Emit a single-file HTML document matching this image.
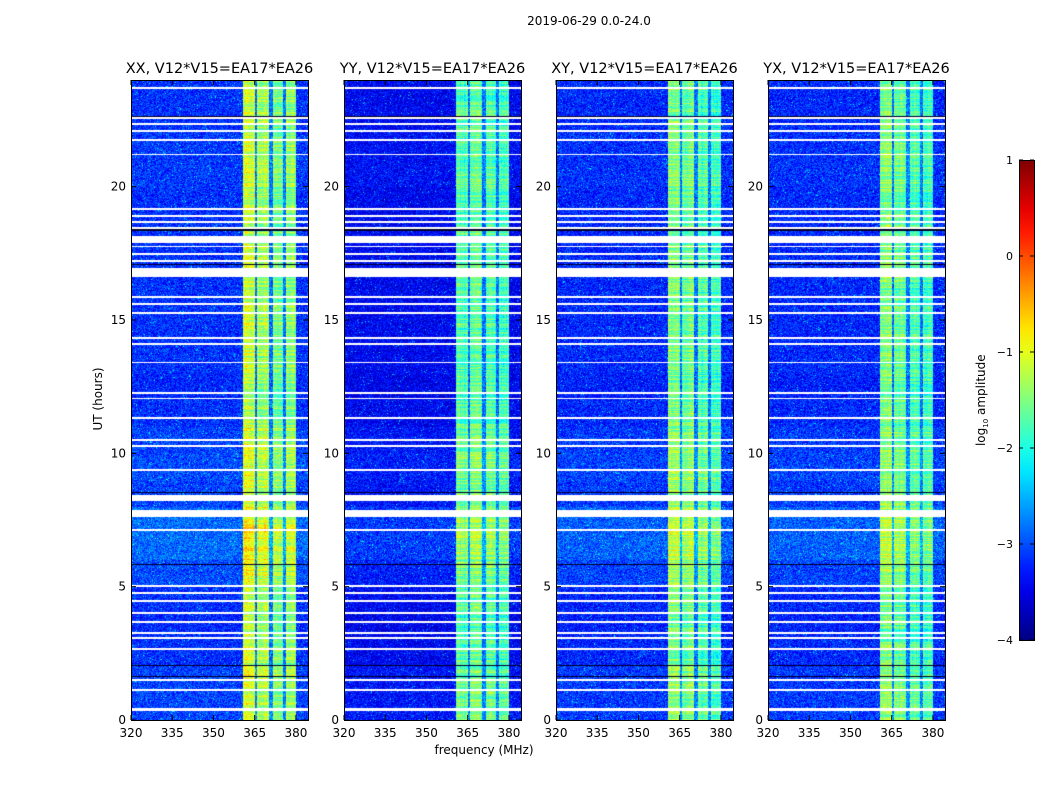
<!DOCTYPE html>
<html><head><meta charset="utf-8">
<style>
body{margin:0;background:#fff;width:1050px;height:800px;position:relative;overflow:hidden;font-family:"DejaVu Sans","Liberation Sans",sans-serif;}
.t{position:absolute;color:#000;white-space:nowrap;}
canvas{position:absolute;}
</style></head>
<body>
<div class="t" style="left:0;width:1178px;top:14px;text-align:center;font-size:12px;">2019-06-29 0.0-24.0</div>
<div class="t" style="left:384px;width:200px;top:743px;text-align:center;font-size:12px;">frequency (MHz)</div>
<div class="t" style="left:48px;top:392px;width:100px;text-align:center;font-size:12px;transform:rotate(-90deg);">UT (hours)</div>
<div class="t" style="left:932px;top:392px;width:100px;text-align:center;font-size:12px;transform:rotate(-90deg);">log<sub style="font-size:7px">10</sub> amplitude</div>
<svg id="ov" width="1050" height="800" style="position:absolute;left:0;top:0;z-index:2;font-family:'DejaVu Sans','Liberation Sans',sans-serif;"></svg>
<script>
const panelNames=["XX","YY","XY","YX"];
const panelLefts=[131,344,556,768];
const subBandStart=[360.7,366.0,371.5,376.4];
const subBandEnd=[365.0,370.2,375.3,380.0];
const bandLevelXX=[-1.15,-1.35,-1.55,-1.45];
const bandLevelYY=[-1.75,-1.7,-1.75,-1.8];
const bandLevelXY=[-1.5,-1.6,-1.75,-1.8];
const bandLevelYX=[-1.5,-1.65,-1.75,-1.8];
const backgroundLevel=[-3.15,-3.4,-3.2,-3.2];
const hourOffset=[0.1,0.1,0.0,-0.05,0.0,0.15,0.3,0.3,0.1,0.15,0.1,0.0,-0.05,0.0,0.0,0.0,0.0,0.0,0.0,0.0,0.05,0.05,0.0,0.0];
const flagStart=[0.35,1.1,1.48,2.64,3.05,3.24,3.65,3.99,4.44,4.74,5.0,7.1,7.6,8.2,9.35,10.25,10.48,11.3,12.02,12.24,13.37,14.08,14.3,15.24,15.58,15.84,16.6,17.18,17.45,17.72,17.9,18.43,18.65,18.88,19.14,21.17,21.73,22.06,22.33,22.55,23.68];
const flagEnd=[0.45,1.16,1.53,2.7,3.1,3.29,3.71,4.05,4.5,4.8,5.06,7.16,7.87,8.42,9.41,10.31,10.54,11.36,12.08,12.3,13.43,14.14,14.36,15.3,15.64,15.9,16.95,17.24,17.51,17.78,18.16,18.49,18.71,18.94,19.2,21.23,21.79,22.12,22.39,22.61,23.74];
const darkLines=[1.65,2.06,5.85,8.55,17.1,18.4,22.65];
const xTicks=[320,335,350,365,380];
const yTicks=[0,5,10,15,20];
const cbTicks=[1,0,-1,-2,-3,-4];
const cbLabels=["1","0","\u22121","\u22122","\u22123","\u22124"];

const W=177,H=640,TOP=80,F0=320,F1=384.4,T1=24;
const xs=f=>(f-F0)/(F1-F0)*W;
const ys=h=>H-h/T1*H;
function jet(v){let t=Math.max(0,Math.min(1,(v+4)/5));const c=x=>Math.round(255*Math.max(0,Math.min(1,1.5-Math.abs(4*t-x))));return [c(3),c(2),c(1)];}
function hash(a,b,c){let h=a*374761393+b*668265263+c*2147483647;h=(h^(h>>>13))*1274126177;h=h^(h>>>16);return ((h>>>0)%10000)/10000;}
const bandSets=[bandLevelXX,bandLevelYY,bandLevelXY,bandLevelYX];
const ov=document.getElementById('ov');
const NS="http://www.w3.org/2000/svg";
function mk(tag,attrs,txt){const e=document.createElementNS(NS,tag);for(const k in attrs)e.setAttribute(k,attrs[k]);if(txt!==undefined)e.textContent=txt;ov.appendChild(e);return e;}
panelNames.forEach((nm,p)=>{
  const cv=document.createElement('canvas');
  cv.width=W;cv.height=H;cv.style.left=panelLefts[p]+'px';cv.style.top=TOP+'px';
  
  
  document.body.appendChild(cv);
  const ctx=cv.getContext('2d');const img=ctx.createImageData(W,H);
  const bands=bandSets[p];
  const rowNoise=[];for(let y=0;y<H;y++)rowNoise.push((hash(y,p,7)-0.5)*0.6);
  const colNoise=[];for(let x=0;x<W;x++)colNoise.push((hash(x,p,11)-0.5)*0.35);
  for(let y=0;y<H;y++){
    const h=(H-y-0.5)/H*T1;
    let flagged=false;for(let i=0;i<flagStart.length;i++)if(h>=flagStart[i]&&h<flagEnd[i])flagged=true;
    let dark=false;for(const d of darkLines)if(Math.abs(ys(d)-y)<0.7)dark=true;
    const ho=hourOffset[Math.min(23,Math.floor(h))];
    for(let x=0;x<W;x++){
      const f=F0+(x+0.5)/W*(F1-F0);const k=(y*W+x)*4;
      let r,g,b;
      if(flagged){r=g=b=255;}
      else if(dark){r=0;g=0;b=40;}
      else{
        let v=backgroundLevel[p]+ho;
        let inBand=false;
        for(let s=0;s<subBandStart.length;s++)if(f>=subBandStart[s]&&f<subBandEnd[s]){v=bands[s]+ho*1.2+rowNoise[y]+colNoise[x];inBand=true;}
        if(!inBand&&f>subBandStart[0]&&f<subBandEnd[3])v=-2.8+ho;
        const n=hash(x,y,p);
        v+=(n-0.5)*(inBand?0.6:0.8);
        if(!inBand&&n>0.985)v+=0.6;
        [r,g,b]=jet(v);
      }
      img.data[k]=r;img.data[k+1]=g;img.data[k+2]=b;img.data[k+3]=255;
    }
  }
  ctx.putImageData(img,0,0);
  const L=panelLefts[p];
  mk('rect',{x:L+0.5,y:TOP+0.5,width:W,height:H,fill:'none',stroke:'#000','stroke-width':1,});
  mk('text',{x:L+W/2,y:TOP-7,'text-anchor':'middle','font-size':14.5,},nm+', V12*V15=EA17*EA26');
  xTicks.forEach(t=>{const X=L+xs(t);
    mk('line',{x1:X,x2:X,y1:TOP+H,y2:TOP+H-5,stroke:'#000'});
    mk('line',{x1:X,x2:X,y1:TOP,y2:TOP+5,stroke:'#000'});
    mk('text',{x:X,y:TOP+H+17,'text-anchor':'middle','font-size':12,},t);});
  yTicks.forEach(t=>{const Y=TOP+ys(t);
    mk('line',{x1:L,x2:L+5,y1:Y,y2:Y,stroke:'#000'});
    mk('line',{x1:L+W,x2:L+W-5,y1:Y,y2:Y,stroke:'#000'});
    mk('text',{x:L-5,y:Y+4,'text-anchor':'end','font-size':12,},t);});
});
const CBX=1019,CBY=160,CBW=15,CBH=480;
const defs=mk('defs',{});
const grad=document.createElementNS(NS,'linearGradient');grad.setAttribute('id','jetg');grad.setAttribute('x1','0');grad.setAttribute('y1','1');grad.setAttribute('x2','0');grad.setAttribute('y2','0');defs.appendChild(grad);
for(let i=0;i<=20;i++){const v=-4+i*5/20;const [r,g,b]=jet(v);const s=document.createElementNS(NS,'stop');s.setAttribute('offset',i/20);s.setAttribute('stop-color',`rgb(${r},${g},${b})`);grad.appendChild(s);}
mk('rect',{x:CBX+0.5,y:CBY+0.5,width:CBW,height:CBH,fill:'url(#jetg)',stroke:'#000',});
cbTicks.forEach((t,i)=>{const Y=CBY+(1-t)/5*CBH;
  mk('line',{x1:CBX,x2:CBX+4,y1:Y,y2:Y,stroke:'#000'});
  mk('line',{x1:CBX+CBW,x2:CBX+CBW-4,y1:Y,y2:Y,stroke:'#000'});
  mk('text',{x:CBX-6,y:Y+4,'text-anchor':'end','font-size':11,},cbLabels[i]);});
</script>
</body></html>
